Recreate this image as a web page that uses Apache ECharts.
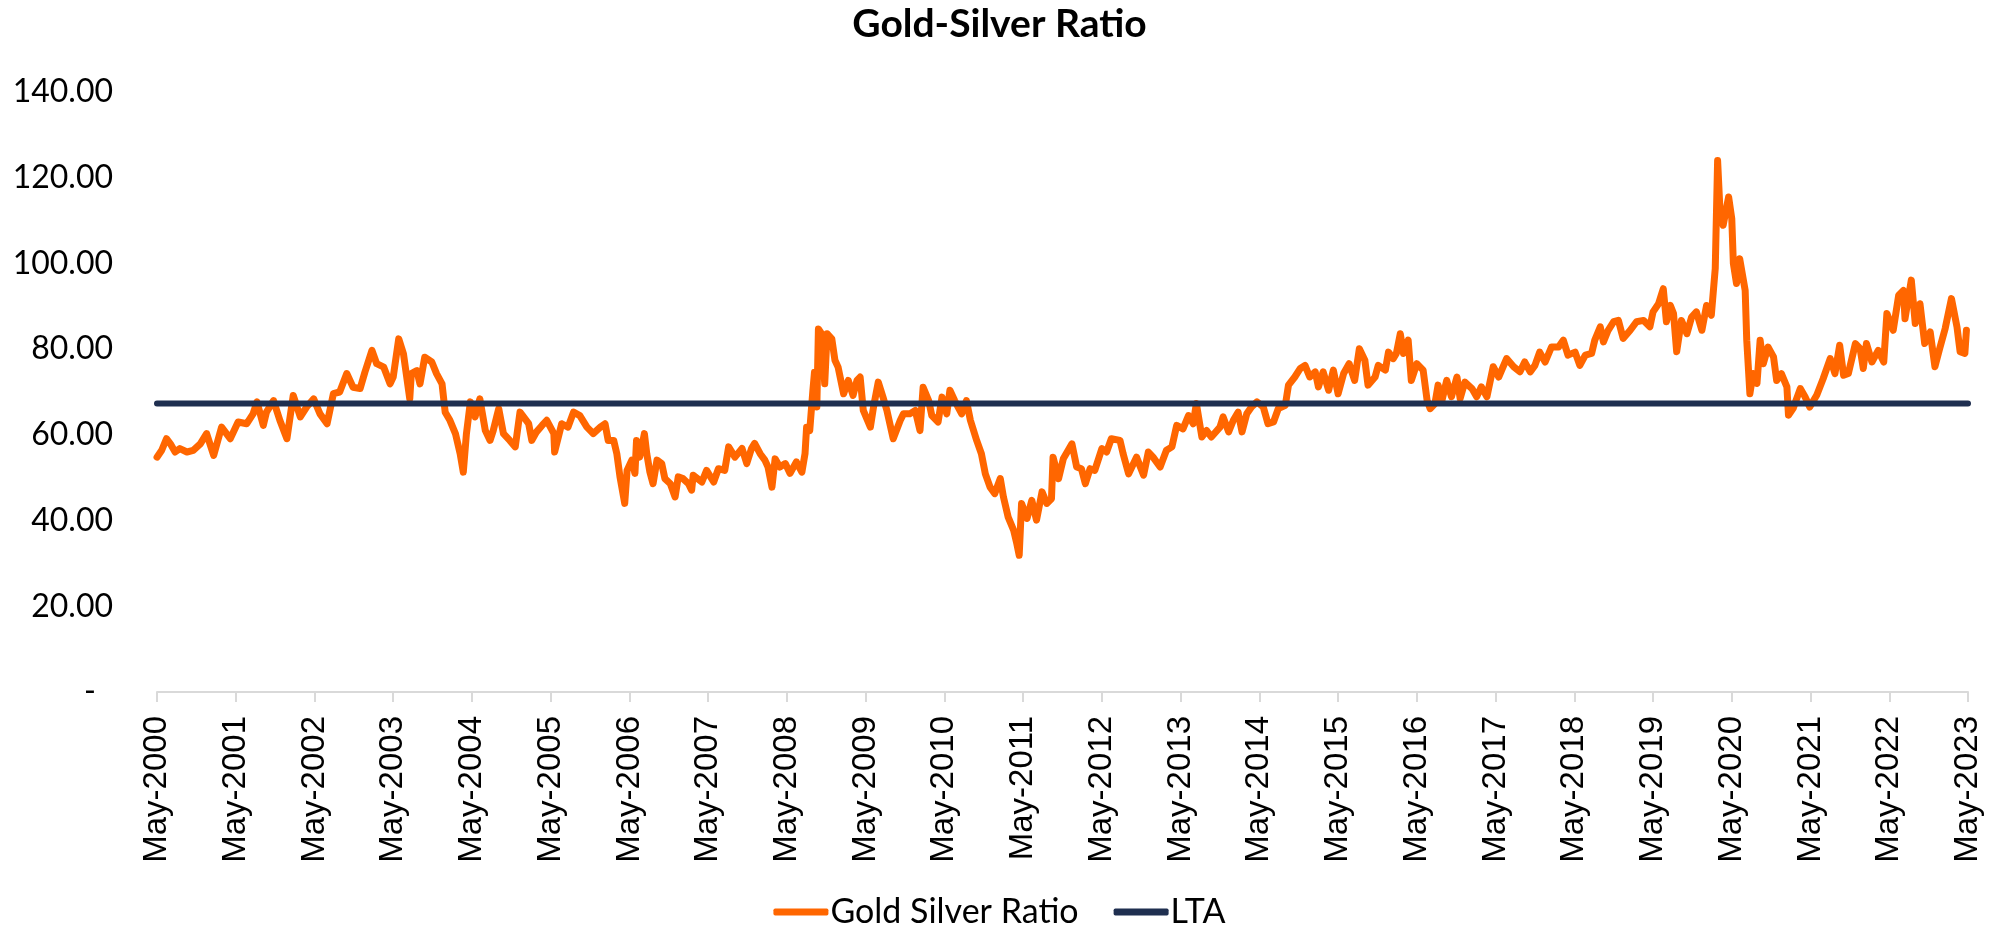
<!DOCTYPE html>
<html>
<head>
<meta charset="utf-8">
<script src="https://cdn.jsdelivr.net/npm/echarts@6/dist/echarts.min.js"></script>
<style>
html,body{margin:0;padding:0;background:#fff;}
#chart{width:1999px;height:934px;}
</style>
</head>
<body>
<div id="chart"></div>
<script>
// Decimal year of each reading
const yearFrac = [
2000.33,2000.39,2000.45,2000.50,2000.56,2000.62,2000.71,2000.79,2000.88,2000.96,
2001.05,2001.15,2001.26,2001.36,2001.47,2001.55,2001.60,2001.68,2001.72,2001.81,
2001.89,2001.98,2002.06,2002.15,2002.23,2002.32,2002.40,2002.49,2002.57,2002.65,
2002.74,2002.82,2002.91,2002.97,2003.06,2003.12,2003.21,2003.29,2003.33,2003.40,
2003.46,2003.54,2003.56,2003.63,2003.67,2003.73,2003.82,2003.88,2003.95,2003.99,
2004.05,2004.12,2004.18,2004.22,2004.26,2004.31,2004.37,2004.43,2004.50,2004.56,
2004.60,2004.67,2004.73,2004.81,2004.88,2004.94,2005.05,
2005.09,2005.15,2005.22,2005.28,2005.37,2005.38,2005.47,2005.55,2005.62,2005.70,
2005.79,2005.87,2005.96,2006.02,2006.06,2006.13,2006.17,2006.21,2006.27,2006.30,
2006.36,2006.40,2006.42,2006.46,2006.52,2006.55,2006.59,2006.63,2006.68,2006.74,
2006.78,2006.85,2006.91,2006.95,2007.01,2007.08,2007.12,2007.14,2007.25,2007.31,
2007.40,2007.46,2007.54,2007.59,2007.67,2007.76,2007.82,2007.88,2007.92,2007.99,
2008.05,2008.09,2008.14,2008.18,2008.24,2008.31,2008.37,2008.45,2008.52,2008.56,
2008.58,2008.62,2008.66,2008.68,2008.71,2008.73,2008.77,2008.81,2008.84,2008.90,
2008.94,2008.98,2009.05,2009.11,2009.17,2009.22,2009.26,2009.30,2009.39,2009.43,
2009.49,2009.55,2009.60,2009.68,2009.77,
2009.81,2009.89,2009.96,2010.02,2010.06,2010.13,2010.17,2010.25,2010.30,2010.36,
2010.40,2010.46,2010.55,2010.61,2010.66,2010.74,2010.80,2010.85,2010.91,2010.97,
2011.04,2011.08,2011.14,2011.21,2011.25,2011.28,2011.31,2011.38,2011.44,2011.50,
2011.57,2011.63,2011.69,2011.71,2011.78,2011.84,2011.95,2012.01,2012.07,2012.12,
2012.18,2012.24,2012.33,2012.39,2012.45,2012.56,2012.60,2012.67,2012.77,2012.86,
2012.92,2012.98,2013.07,2013.15,2013.22,2013.28,2013.36,2013.43,2013.49,2013.53,
2013.60,2013.66,2013.72,2013.83,2013.87,2013.94,2014.00,2014.06,2014.11,2014.17,
2014.23,2014.30,2014.38,2014.44,
2014.51,2014.57,2014.66,2014.70,2014.78,2014.85,2014.91,2014.97,2015.04,2015.08,
2015.14,2015.21,2015.27,2015.33,2015.40,2015.47,2015.54,2015.60,2015.67,2015.71,
2015.80,2015.84,2015.93,2015.97,2016.03,2016.07,2016.12,2016.16,2016.22,2016.26,
2016.33,2016.41,2016.46,2016.50,2016.56,2016.60,2016.65,2016.71,2016.77,2016.84,
2016.88,2016.94,2017.03,2017.09,2017.15,2017.22,2017.30,2017.37,2017.47,2017.56,
2017.64,2017.70,2017.77,2017.83,2017.89,2017.96,2018.04,2018.13,2018.19,2018.25,
2018.34,2018.40,2018.47,2018.55,2018.59,
2018.66,2018.70,2018.76,2018.83,2018.89,2018.95,2019.04,2019.12,2019.21,2019.29,
2019.33,2019.40,2019.46,2019.50,2019.55,2019.59,2019.63,2019.69,2019.76,2019.82,
2019.88,2019.95,2020.01,2020.07,2020.12,2020.15,2020.18,2020.22,2020.29,2020.33,
2020.35,2020.39,2020.43,2020.50,2020.52,2020.56,2020.60,2020.65,2020.69,2020.73,
2020.79,2020.86,2020.90,2020.96,2021.03,2021.05,2021.11,2021.20,2021.26,2021.32,
2021.41,2021.49,2021.58,2021.64,2021.70,2021.75,2021.81,2021.90,2021.96,2022.00,
2022.04,2022.11,2022.19,2022.26,2022.30,2022.38,2022.45,2022.51,2022.53,2022.61,
2022.66,2022.72,2022.78,2022.85,2022.91,2022.97,2023.04,2023.12,2023.19,2023.23,
2023.29,2023.31
];

// Gold / silver ratio at each reading
const goldSilverRatio = [
54.8,56.4,59.1,57.9,56.0,56.8,56.0,56.4,57.9,60.3,
55.2,61.8,59.1,63.0,62.6,64.9,67.7,62.2,65.3,68.0,
63.4,59.1,69.2,64.2,66.5,68.4,64.9,62.6,69.6,70.0,
74.3,71.1,70.8,74.6,79.7,76.6,75.8,71.9,73.5,82.4,
78.9,68.4,74.3,75.0,71.9,78.1,77.0,74.3,71.9,65.3,
63.4,60.3,55.6,51.3,60.3,67.7,64.2,68.4,61.0,58.7,
61.0,66.1,60.3,58.7,57.2,65.3,62.6,
58.7,60.7,62.2,63.4,60.3,56.0,62.6,61.8,65.3,64.5,
61.8,60.3,61.8,62.6,58.7,58.7,55.6,50.2,44.0,51.7,
54.1,51.0,58.7,54.8,60.3,55.6,51.3,48.6,54.1,53.3,
49.8,48.6,45.5,50.2,49.8,48.6,47.1,50.6,49.0,51.7,
49.0,52.1,51.7,57.2,54.8,56.8,53.3,56.8,58.0,55.6,
54.1,52.5,47.8,54.4,52.5,53.3,51.0,53.7,51.3,55.6,
61.8,61.0,70.4,74.6,66.5,84.7,83.6,71.9,83.6,82.4,
77.4,75.8,69.6,72.7,69.2,72.7,73.5,65.7,61.8,66.5,
72.3,68.8,65.7,59.1,63.4,
64.9,64.9,65.7,61.0,71.1,68.0,64.5,63.0,68.8,64.9,
70.4,68.0,64.9,68.0,63.4,58.7,55.6,50.9,47.8,46.3,
49.8,45.5,40.8,37.7,34.6,31.9,44.0,40.5,44.7,40.1,
46.7,44.0,45.1,54.8,49.8,54.4,57.9,52.5,52.1,48.6,
52.1,51.7,56.8,56.0,59.1,58.7,55.6,50.9,54.8,50.6,
56.0,54.8,52.5,56.4,57.2,62.2,61.4,64.5,62.6,67.3,
59.5,61.0,59.5,61.8,64.2,60.7,63.4,65.3,60.7,64.9,
66.5,67.7,66.5,62.6,
63.0,66.1,66.9,71.6,73.5,75.5,76.2,73.5,74.7,71.2,
74.7,70.4,75.1,69.6,74.3,76.6,72.7,80.1,77.4,71.6,
73.5,76.2,75.1,79.3,77.8,79.0,83.6,79.0,82.1,72.7,
76.6,75.1,68.1,66.1,67.3,71.6,68.1,72.7,68.9,73.5,
68.5,72.3,70.8,68.9,71.2,68.9,75.9,73.5,77.8,75.9,
74.7,77.0,74.7,76.2,79.3,77.0,80.5,80.5,82.1,78.6,
79.3,76.2,78.6,79.0,82.1,
85.2,81.7,84.4,86.4,86.7,82.5,84.4,86.4,86.7,85.2,
88.7,90.6,94.1,86.4,90.2,88.3,79.4,86.7,83.6,87.5,
88.7,84.4,90.2,87.9,98.8,124.0,112.4,108.9,115.5,110.4,
100.0,95.3,101.1,93.7,82.1,69.6,74.3,72.0,82.1,76.6,
80.5,78.2,72.7,74.3,71.2,64.6,66.2,70.8,68.9,66.5,
69.3,73.1,77.8,74.3,80.9,73.9,74.3,81.3,80.1,75.5,
81.3,77.0,79.7,77.0,88.3,84.4,92.6,93.7,87.1,96.1,
86.0,90.6,81.3,84.0,75.9,80.1,84.8,91.8,85.2,79.4,
79.0,84.4
];

// Long-term average
const ltaValue = 67.3;

// Tick labels (one per year, starting May-2000)
const tickLabels = [
'May-2000','May-2001','May-2002','May-2003','May-2004','May-2005',
'May-2006','May-2007','May-2008','May-2009','May-2010','May-2011',
'May-2012','May-2013','May-2014','May-2015','May-2016','May-2017',
'May-2018','May-2019','May-2020','May-2021','May-2022','May-2023'
];

const startYear = 2000.33;
const seriesNames = ['Gold Silver Ratio', 'LTA'];

const ratioData = yearFrac.map((y, i) => [y - startYear, goldSilverRatio[i]]);
const ltaData = [[0, ltaValue], [tickLabels.length - 1, ltaValue]];

const chart = echarts.init(document.getElementById('chart'), null, {renderer: 'canvas'});
chart.setOption({
  backgroundColor: '#ffffff',
  animation: false,
  title: {
    text: 'Gold-Silver Ratio',
    left: 'center',
    top: 0,
    textStyle: {
      fontFamily: 'Lato',
      fontWeight: 'bold',
      fontSize: 39,
      color: '#000000'
    }
  },
  legend: {
    data: seriesNames,
    bottom: 0,
    left: 'center',
    icon: 'roundRect',
    itemWidth: 55,
    itemHeight: 7,
    itemGap: 35,
    textStyle: {
      fontFamily: 'Lato',
      fontSize: 34,
      color: '#000000',
      padding: [0, 0, 0, -3]
    }
  },
  grid: {
    left: 157,
    right: 31,
    top: 92,
    bottom: 242,
    containLabel: false
  },
  xAxis: {
    type: 'value',
    min: 0,
    max: tickLabels.length - 1,
    interval: 1,
    splitLine: {show: false},
    axisLine: {show: true, onZero: false, lineStyle: {color: '#D9D9D9', width: 2}},
    axisTick: {show: true, length: 10, lineStyle: {color: '#D9D9D9', width: 2}},
    axisLabel: {
      rotate: 90,
      margin: 24,
      fontFamily: 'Liberation Sans',
      fontSize: 33,
      color: '#000000',
      formatter: function (v) { return tickLabels[Math.round(v)] || ''; }
    }
  },
  yAxis: {
    type: 'value',
    min: 0,
    max: 140,
    interval: 20,
    splitLine: {show: false},
    axisLine: {show: false},
    axisTick: {show: false},
    axisLabel: {
      margin: 44,
      fontFamily: 'Lato',
      fontSize: 32,
      color: '#000000',
      formatter: function (v) { return v === 0 ? '{z|-}' : v.toFixed(2); },
      rich: {
        z: {fontFamily: 'Lato', fontSize: 32, color: '#000000', padding: [0, 17, 0, 0]}
      }
    }
  },
  series: [
    {
      name: seriesNames[0],
      type: 'line',
      data: ratioData,
      symbol: 'none',
      smooth: false,
      lineStyle: {color: '#FF6600', width: 7, join: 'round', cap: 'round'},
      itemStyle: {color: '#FF6600'},
      z: 2
    },
    {
      name: seriesNames[1],
      type: 'line',
      data: ltaData,
      symbol: 'none',
      lineStyle: {color: '#1F2F50', width: 6, cap: 'round'},
      itemStyle: {color: '#1F2F50'},
      z: 3
    }
  ]
});
</script>
</body>
</html>
